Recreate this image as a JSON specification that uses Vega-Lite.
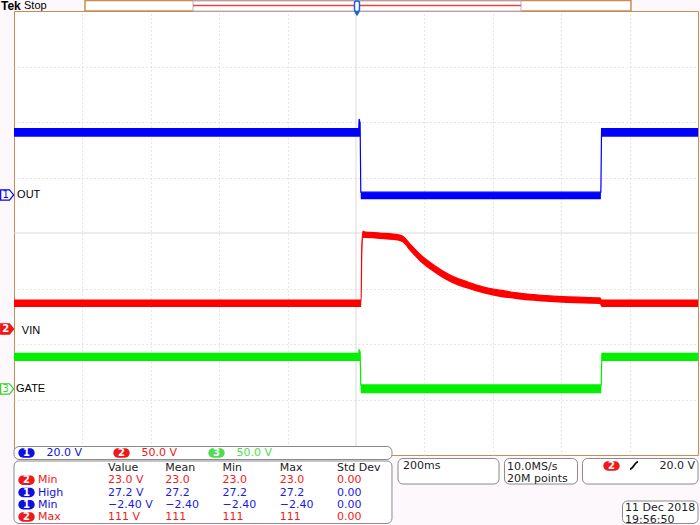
{
  "$schema": "https://vega.github.io/schema/vega-lite/v6.json",
  "width": 684,
  "height": 444,
  "autosize": {"type": "none"},
  "padding": {"left": 14, "top": 11, "right": 2, "bottom": 70},
  "background": "#fcf8fb",
  "config": {
    "view": {"stroke": "#c98c55", "strokeWidth": 1, "fill": "#ffffff"},
    "text": {"font": "DejaVu Sans", "fontSize": 11}
  },
  "data": {"values": [{}]},
  "datasets": {
    "ch1": [
      {"t": -1000, "lo": 21.0, "hi": 23.9},
      {"t": 8, "lo": 21.0, "hi": 23.9},
      {"t": 9, "lo": 21.0, "hi": 27.4},
      {"t": 12, "lo": 21.0, "hi": 26.0},
      {"t": 14, "lo": -1.5, "hi": 1.0},
      {"t": 716, "lo": -1.5, "hi": 1.0},
      {"t": 718, "lo": 21.0, "hi": 23.9},
      {"t": 1000, "lo": 21.0, "hi": 23.9}
    ],
    "ch2": [
      {"t": -1000, "lo": 19.8, "hi": 26.1},
      {"t": 11, "lo": 19.8, "hi": 26.1},
      {"t": 15, "lo": 19.8, "hi": 26.1},
      {"t": 17, "lo": 55.0, "hi": 75.0},
      {"t": 20.5, "lo": 82.0, "hi": 88.3},
      {"t": 26, "lo": 82.0, "hi": 87.4},
      {"t": 70, "lo": 81.1, "hi": 86.5},
      {"t": 125, "lo": 79.5, "hi": 84.9},
      {"t": 138, "lo": 77.8, "hi": 83.3},
      {"t": 158, "lo": 70.3, "hi": 76.5},
      {"t": 187, "lo": 60.9, "hi": 67.3},
      {"t": 225, "lo": 51.8, "hi": 58.2},
      {"t": 275, "lo": 42.4, "hi": 48.7},
      {"t": 325, "lo": 36.4, "hi": 42.6},
      {"t": 371, "lo": 32.2, "hi": 38.1},
      {"t": 421, "lo": 28.9, "hi": 35.0},
      {"t": 471, "lo": 26.9, "hi": 32.6},
      {"t": 518, "lo": 25.4, "hi": 31.0},
      {"t": 567, "lo": 24.3, "hi": 29.8},
      {"t": 617, "lo": 23.5, "hi": 29.0},
      {"t": 664, "lo": 22.9, "hi": 28.5},
      {"t": 713, "lo": 22.5, "hi": 28.0},
      {"t": 718, "lo": 19.8, "hi": 26.1},
      {"t": 1000, "lo": 19.8, "hi": 26.1}
    ],
    "ch3": [
      {"t": -1000, "lo": 25.2, "hi": 32.1},
      {"t": 8, "lo": 25.2, "hi": 32.1},
      {"t": 9, "lo": 25.2, "hi": 35.1},
      {"t": 12, "lo": 25.2, "hi": 33.5},
      {"t": 14, "lo": -3.9, "hi": 3.6},
      {"t": 717, "lo": -3.9, "hi": 3.6},
      {"t": 719, "lo": 25.2, "hi": 32.1},
      {"t": 1000, "lo": 25.2, "hi": 32.1}
    ],
    "markers": [
      {"ch": "1", "name": "OUT", "v": 0},
      {"ch": "2", "name": "VIN", "v": 0},
      {"ch": "3", "name": "GATE", "v": 0}
    ],
    "scales": [
      {"ch": "1", "scale": "20.0 V"},
      {"ch": "2", "scale": "50.0 V"},
      {"ch": "3", "scale": "50.0 V"}
    ],
    "table": [
      {"row": "head", "col": "Value", "text": "Value", "ch": "h"},
      {"row": "head", "col": "Mean", "text": "Mean", "ch": "h"},
      {"row": "head", "col": "Min", "text": "Min", "ch": "h"},
      {"row": "head", "col": "Max", "text": "Max", "ch": "h"},
      {"row": "head", "col": "Std Dev", "text": "Std Dev", "ch": "h"},
      {"row": "r1", "col": "Value", "text": "23.0 V", "ch": "2"},
      {"row": "r1", "col": "Mean", "text": "23.0", "ch": "2"},
      {"row": "r1", "col": "Min", "text": "23.0", "ch": "2"},
      {"row": "r1", "col": "Max", "text": "23.0", "ch": "2"},
      {"row": "r1", "col": "Std Dev", "text": "0.00", "ch": "2"},
      {"row": "r2", "col": "Value", "text": "27.2 V", "ch": "1"},
      {"row": "r2", "col": "Mean", "text": "27.2", "ch": "1"},
      {"row": "r2", "col": "Min", "text": "27.2", "ch": "1"},
      {"row": "r2", "col": "Max", "text": "27.2", "ch": "1"},
      {"row": "r2", "col": "Std Dev", "text": "0.00", "ch": "1"},
      {"row": "r3", "col": "Value", "text": "−2.40 V", "ch": "1"},
      {"row": "r3", "col": "Mean", "text": "−2.40", "ch": "1"},
      {"row": "r3", "col": "Min", "text": "−2.40", "ch": "1"},
      {"row": "r3", "col": "Max", "text": "−2.40", "ch": "1"},
      {"row": "r3", "col": "Std Dev", "text": "0.00", "ch": "1"},
      {"row": "r4", "col": "Value", "text": "111 V", "ch": "2"},
      {"row": "r4", "col": "Mean", "text": "111", "ch": "2"},
      {"row": "r4", "col": "Min", "text": "111", "ch": "2"},
      {"row": "r4", "col": "Max", "text": "111", "ch": "2"},
      {"row": "r4", "col": "Std Dev", "text": "0.00", "ch": "2"}
    ],
    "tablelabels": [
      {"row": "r1", "ch": "2", "name": "Min"},
      {"row": "r2", "ch": "1", "name": "High"},
      {"row": "r3", "ch": "1", "name": "Min"},
      {"row": "r4", "ch": "2", "name": "Max"}
    ]
  },
  "resolve": {
    "scale": {"x": "independent", "y": "independent", "color": "independent"},
    "axis": {"x": "independent", "y": "independent"}
  },
  "layer": [
    {
      "data": {"values": [{"xd": 5, "yd": 0}]},
      "layer": [
        {
          "mark": {"type": "rule", "color": "#dadada", "strokeWidth": 1},
          "encoding": {
            "x": {"field": "xd", "type": "quantitative",
                  "scale": {"domain": [0, 10], "nice": false, "zero": false},
                  "axis": {"values": [1, 2, 3, 4, 6, 7, 8, 9], "grid": true, "gridColor": "#cccccc", "gridDash": [1, 3], "labels": false, "ticks": false, "domain": false, "title": null}}
          }
        },
        {
          "mark": {"type": "rule", "color": "#dadada", "strokeWidth": 1},
          "encoding": {
            "y": {"field": "yd", "type": "quantitative",
                  "scale": {"domain": [-4, 4], "nice": false, "zero": false},
                  "axis": {"values": [-3, -2, -1, 1, 2, 3], "grid": true, "gridColor": "#cccccc", "gridDash": [1, 3], "labels": false, "ticks": false, "domain": false, "title": null}}
          }
        }
      ]
    },
    {
      "layer": [
        {"mark": {"type": "text", "font": "Liberation Sans", "fontSize": 12, "fontWeight": "bold", "align": "left", "baseline": "middle", "color": "#000000", "text": "Tek"},
         "encoding": {"x": {"datum": -0.19, "type": "quantitative", "scale": {"domain": [0, 10], "nice": false, "zero": false}, "axis": null},
                      "y": {"datum": 4.099, "type": "quantitative", "scale": {"domain": [-4, 4], "nice": false, "zero": false}, "axis": null}}},
        {"mark": {"type": "text", "font": "Liberation Sans", "fontSize": 11, "align": "left", "baseline": "middle", "color": "#000000", "text": "Stop"},
         "encoding": {"x": {"datum": 0.146, "type": "quantitative"}, "y": {"datum": 4.099, "type": "quantitative"}}},
        {"mark": {"type": "rect", "fill": "#ffffff", "stroke": "#c98c55", "strokeWidth": 1.5},
         "encoding": {"x": {"datum": 1.038, "type": "quantitative"}, "x2": {"datum": 9.02}, "y": {"datum": 4.189, "type": "quantitative"}, "y2": {"datum": 4.0}}},
        {"mark": {"type": "rect", "fill": "#ffffff", "stroke": "#b4b4c8", "strokeWidth": 1},
         "encoding": {"x": {"datum": 2.617, "type": "quantitative"}, "x2": {"datum": 7.412}, "y": {"datum": 4.18, "type": "quantitative"}, "y2": {"datum": 4.0}}},
        {"mark": {"type": "rule", "color": "#f04040", "strokeWidth": 1.5},
         "encoding": {"x": {"datum": 2.617, "type": "quantitative"}, "x2": {"datum": 7.412}, "y": {"datum": 4.099, "type": "quantitative"}}},
        {"mark": {"type": "rect", "fill": "#ffffff", "stroke": "#1a5fe0", "strokeWidth": 1.5, "cornerRadius": 2},
         "encoding": {"x": {"datum": 4.978, "type": "quantitative"}, "x2": {"datum": 5.051}, "y": {"datum": 4.18, "type": "quantitative"}, "y2": {"datum": 3.991}}},
        {"mark": {"type": "point", "shape": "triangle-down", "filled": true, "color": "#1a5fe0", "size": 30, "opacity": 1},
         "encoding": {"x": {"datum": 5.015, "type": "quantitative"}, "y": {"datum": 3.946, "type": "quantitative"}}},
        {"mark": {"type": "rect", "fill": "#ffffff", "stroke": "#8a8a8a", "strokeWidth": 1, "cornerRadius": 5},
         "encoding": {"x": {"datum": 0.0, "type": "quantitative"}, "x2": {"datum": 5.526}, "y": {"datum": -3.847, "type": "quantitative"}, "y2": {"datum": -4.081}}},
        {"mark": {"type": "rect", "fill": "#ffffff", "stroke": "#8a8a8a", "strokeWidth": 1, "cornerRadius": 5},
         "encoding": {"x": {"datum": 0.0, "type": "quantitative"}, "x2": {"datum": 5.526}, "y": {"datum": -4.108, "type": "quantitative"}, "y2": {"datum": -5.234}}},
        {"mark": {"type": "rect", "fill": "#ffffff", "stroke": "#8a8a8a", "strokeWidth": 1, "cornerRadius": 5},
         "encoding": {"x": {"datum": 5.614, "type": "quantitative"}, "x2": {"datum": 7.091}, "y": {"datum": -4.063, "type": "quantitative"}, "y2": {"datum": -4.523}}},
        {"mark": {"type": "rect", "fill": "#ffffff", "stroke": "#8a8a8a", "strokeWidth": 1, "cornerRadius": 5},
         "encoding": {"x": {"datum": 7.171, "type": "quantitative"}, "x2": {"datum": 8.238}, "y": {"datum": -4.063, "type": "quantitative"}, "y2": {"datum": -4.523}}},
        {"mark": {"type": "rect", "fill": "#ffffff", "stroke": "#8a8a8a", "strokeWidth": 1, "cornerRadius": 5},
         "encoding": {"x": {"datum": 8.311, "type": "quantitative"}, "x2": {"datum": 10.0}, "y": {"datum": -4.063, "type": "quantitative"}, "y2": {"datum": -4.523}}},
        {"mark": {"type": "rect", "fill": "#ffffff", "stroke": "#8a8a8a", "strokeWidth": 1, "cornerRadius": 5},
         "encoding": {"x": {"datum": 8.896, "type": "quantitative"}, "x2": {"datum": 10.0}, "y": {"datum": -4.829, "type": "quantitative"}, "y2": {"datum": -5.234}}},
        {"mark": {"type": "text", "align": "left", "baseline": "middle", "color": "#1e1e1e", "text": "200ms"},
         "encoding": {"x": {"datum": 5.687, "type": "quantitative"}, "y": {"datum": -4.198, "type": "quantitative"}}},
        {"mark": {"type": "text", "align": "left", "baseline": "top", "color": "#1e1e1e", "lineHeight": 12, "text": ["10.0MS/s", "20M points"]},
         "encoding": {"x": {"datum": 7.208, "type": "quantitative"}, "y": {"datum": -4.11, "type": "quantitative"}}},
        {"mark": {"type": "point", "shape": "M-0.41,-0.55L0.41,-0.55A0.55,0.55,0,0,1,0.41,0.55L-0.41,0.55A0.55,0.55,0,0,1,-0.41,-0.55Z", "filled": true, "color": "#f01818", "size": 289, "opacity": 1},
         "encoding": {"x": {"datum": 8.735, "type": "quantitative"}, "y": {"datum": -4.198, "type": "quantitative"}}},
        {"mark": {"type": "text", "align": "center", "baseline": "middle", "color": "#ffffff", "fontWeight": "bold", "fontSize": 10, "text": "2"},
         "encoding": {"x": {"datum": 8.735, "type": "quantitative"}, "y": {"datum": -4.198, "type": "quantitative"}}},
        {"mark": {"type": "point", "shape": "M-1,0.9C-0.2,0.9,0.2,-0.9,1,-0.9", "filled": false, "stroke": "#111111", "strokeWidth": 1.8, "size": 64, "opacity": 1},
         "encoding": {"x": {"datum": 9.064, "type": "quantitative"}, "y": {"datum": -4.19, "type": "quantitative"}}},
        {"mark": {"type": "text", "align": "right", "baseline": "middle", "color": "#1e1e1e", "text": "20.0 V"},
         "encoding": {"x": {"datum": 9.956, "type": "quantitative"}, "y": {"datum": -4.198, "type": "quantitative"}}},
        {"mark": {"type": "text", "align": "left", "baseline": "top", "color": "#1e1e1e", "lineHeight": 11.5, "text": ["11 Dec 2018", "19:56:50"]},
         "encoding": {"x": {"datum": 8.933, "type": "quantitative"}, "y": {"datum": -4.847, "type": "quantitative"}}}
      ]
    },
    {
      "data": {"name": "scales"},
      "layer": [
        {"mark": {"type": "point", "shape": "M-0.41,-0.55L0.41,-0.55A0.55,0.55,0,0,1,0.41,0.55L-0.41,0.55A0.55,0.55,0,0,1,-0.41,-0.55Z", "filled": true, "size": 289, "opacity": 1},
         "encoding": {
           "x": {"field": "ch", "type": "nominal", "scale": {"type": "point", "domain": ["1", "2", "3"], "range": [12.5, 202.5], "padding": 0}, "axis": null},
           "y": {"datum": -3.964, "type": "quantitative", "scale": {"domain": [-4, 4], "nice": false, "zero": false}, "axis": null},
           "color": {"field": "ch", "type": "nominal", "scale": {"domain": ["1", "2", "3"], "range": ["#1010e0", "#f01818", "#50dc50"]}, "legend": null}
         }},
        {"mark": {"type": "text", "align": "center", "baseline": "middle", "color": "#ffffff", "fontWeight": "bold", "fontSize": 10},
         "encoding": {"x": {"field": "ch", "type": "nominal"}, "y": {"datum": -3.964, "type": "quantitative"}, "text": {"field": "ch"}}},
        {"mark": {"type": "text", "align": "left", "baseline": "middle", "dx": 20},
         "encoding": {"x": {"field": "ch", "type": "nominal"}, "y": {"datum": -3.964, "type": "quantitative"}, "text": {"field": "scale"},
                      "color": {"field": "ch", "type": "nominal", "scale": {"domain": ["1", "2", "3"], "range": ["#1a1ae6", "#ee1c1c", "#55e055"]}, "legend": null}}}
      ]
    },
    {
      "data": {"name": "table"},
      "mark": {"type": "text", "align": "left", "baseline": "middle"},
      "encoding": {
        "x": {"field": "col", "type": "nominal", "scale": {"type": "point", "domain": ["Value", "Mean", "Min", "Max", "Std Dev"], "range": [94, 323], "padding": 0}, "axis": null},
        "y": {"field": "row", "type": "nominal", "scale": {"type": "point", "domain": ["head", "r1", "r2", "r3", "r4"], "range": [457, 506], "padding": 0}, "axis": null},
        "text": {"field": "text"},
        "color": {"field": "ch", "type": "nominal", "scale": {"domain": ["h", "1", "2"], "range": ["#222222", "#1a1ae6", "#ee1c1c"]}, "legend": null}
      }
    },
    {
      "data": {"name": "tablelabels"},
      "layer": [
        {"mark": {"type": "point", "shape": "M-0.41,-0.55L0.41,-0.55A0.55,0.55,0,0,1,0.41,0.55L-0.41,0.55A0.55,0.55,0,0,1,-0.41,-0.55Z", "filled": true, "size": 289, "opacity": 1},
         "encoding": {
           "x": {"datum": 0.183, "type": "quantitative", "scale": {"domain": [0, 10], "nice": false, "zero": false}, "axis": null},
           "y": {"field": "row", "type": "nominal", "scale": {"type": "point", "domain": ["head", "r1", "r2", "r3", "r4"], "range": [457, 506], "padding": 0}, "axis": null},
           "color": {"field": "ch", "type": "nominal", "scale": {"domain": ["1", "2"], "range": ["#1010e0", "#f01818"]}, "legend": null}
         }},
        {"mark": {"type": "text", "align": "center", "baseline": "middle", "color": "#ffffff", "fontWeight": "bold", "fontSize": 10},
         "encoding": {"x": {"datum": 0.183, "type": "quantitative"}, "y": {"field": "row", "type": "nominal"}, "text": {"field": "ch"}}},
        {"mark": {"type": "text", "align": "left", "baseline": "middle"},
         "encoding": {"x": {"datum": 0.351, "type": "quantitative"}, "y": {"field": "row", "type": "nominal"}, "text": {"field": "name"},
                      "color": {"field": "ch", "type": "nominal", "scale": {"domain": ["1", "2"], "range": ["#1a1ae6", "#ee1c1c"]}, "legend": null}}}
      ]
    },
    {
      "data": {"name": "ch1"},
      "layer": [
        {"mark": {"type": "area", "color": "#0000ff", "opacity": 1},
         "encoding": {
           "x": {"field": "t", "type": "quantitative", "scale": {"domain": [-1000, 1000], "nice": false, "zero": false}, "axis": null},
           "y": {"field": "lo", "type": "quantitative", "scale": {"domain": [-93.7, 66.3], "nice": false, "zero": false}, "axis": null},
           "y2": {"field": "hi"}
         }},
        {"mark": {"type": "line", "color": "#0000ff", "strokeWidth": 1.2},
         "encoding": {"x": {"field": "t", "type": "quantitative"}, "y": {"field": "hi", "type": "quantitative"}}},
        {"data": {"name": "markers"},
         "transform": [{"filter": "datum.ch === '1'"}],
         "layer": [
           {"mark": {"type": "point", "shape": "M-1,-0.8L0.35,-0.8L1,0L0.35,0.8L-1,0.8Z", "size": 169, "filled": true, "fill": "#ffffff", "stroke": "#0000ff", "strokeWidth": 1.2, "opacity": 1},
            "encoding": {"x": {"datum": -1020, "type": "quantitative"}, "y": {"field": "v", "type": "quantitative"}}},
           {"mark": {"type": "text", "align": "center", "baseline": "middle", "color": "#0000ff", "fontSize": 10},
            "encoding": {"x": {"datum": -1024, "type": "quantitative"}, "y": {"field": "v", "type": "quantitative"}, "text": {"field": "ch"}}},
           {"mark": {"type": "text", "align": "left", "baseline": "middle", "color": "#000000", "font": "Liberation Sans", "fontSize": 11},
            "encoding": {"x": {"datum": -991, "type": "quantitative"}, "y": {"field": "v", "type": "quantitative"}, "text": {"field": "name"}}}
         ]}
      ]
    },
    {
      "data": {"name": "ch2"},
      "layer": [
        {"mark": {"type": "area", "color": "#ff0000", "opacity": 1, "interpolate": "monotone"},
         "encoding": {
           "x": {"field": "t", "type": "quantitative", "scale": {"domain": [-1000, 1000], "nice": false, "zero": false}, "axis": null},
           "y": {"field": "lo", "type": "quantitative", "scale": {"domain": [-113.5, 286.5], "nice": false, "zero": false}, "axis": null},
           "y2": {"field": "hi"}
         }},
        {"mark": {"type": "line", "color": "#ff0000", "strokeWidth": 1.2, "interpolate": "monotone"},
         "encoding": {"x": {"field": "t", "type": "quantitative"}, "y": {"field": "hi", "type": "quantitative"}}},
        {"data": {"name": "markers"},
         "transform": [{"filter": "datum.ch === '2'"}],
         "layer": [
           {"mark": {"type": "point", "shape": "M-1,-0.8L0.35,-0.8L1,0L0.35,0.8L-1,0.8Z", "size": 169, "filled": true, "fill": "#f01818", "stroke": "#f01818", "strokeWidth": 1.2, "opacity": 1},
            "encoding": {"x": {"datum": -1020, "type": "quantitative"}, "y": {"field": "v", "type": "quantitative"}}},
           {"mark": {"type": "text", "align": "center", "baseline": "middle", "color": "#ffffff", "fontSize": 10, "fontWeight": "bold"},
            "encoding": {"x": {"datum": -1024, "type": "quantitative"}, "y": {"field": "v", "type": "quantitative"}, "text": {"field": "ch"}}},
           {"mark": {"type": "text", "align": "left", "baseline": "middle", "color": "#000000", "font": "Liberation Sans", "fontSize": 11, "dy": 2},
            "encoding": {"x": {"datum": -977, "type": "quantitative"}, "y": {"field": "v", "type": "quantitative"}, "text": {"field": "name"}}}
         ]}
      ]
    },
    {
      "data": {"name": "ch3"},
      "layer": [
        {"mark": {"type": "area", "color": "#00f000", "opacity": 1},
         "encoding": {
           "x": {"field": "t", "type": "quantitative", "scale": {"domain": [-1000, 1000], "nice": false, "zero": false}, "axis": null},
           "y": {"field": "lo", "type": "quantitative", "scale": {"domain": [-59.5, 340.5], "nice": false, "zero": false}, "axis": null},
           "y2": {"field": "hi"}
         }},
        {"mark": {"type": "line", "color": "#00f000", "strokeWidth": 1.2},
         "encoding": {"x": {"field": "t", "type": "quantitative"}, "y": {"field": "hi", "type": "quantitative"}}},
        {"data": {"name": "markers"},
         "transform": [{"filter": "datum.ch === '3'"}],
         "layer": [
           {"mark": {"type": "point", "shape": "M-1,-0.8L0.35,-0.8L1,0L0.35,0.8L-1,0.8Z", "size": 169, "filled": true, "fill": "#ffffff", "stroke": "#30d030", "strokeWidth": 1.2, "opacity": 1},
            "encoding": {"x": {"datum": -1020, "type": "quantitative"}, "y": {"field": "v", "type": "quantitative"}}},
           {"mark": {"type": "text", "align": "center", "baseline": "middle", "color": "#30d030", "fontSize": 10},
            "encoding": {"x": {"datum": -1024, "type": "quantitative"}, "y": {"field": "v", "type": "quantitative"}, "text": {"field": "ch"}}},
           {"mark": {"type": "text", "align": "left", "baseline": "middle", "color": "#000000", "font": "Liberation Sans", "fontSize": 11},
            "encoding": {"x": {"datum": -994, "type": "quantitative"}, "y": {"field": "v", "type": "quantitative"}, "text": {"field": "name"}}}
         ]}
      ]
    }
  ]
}
